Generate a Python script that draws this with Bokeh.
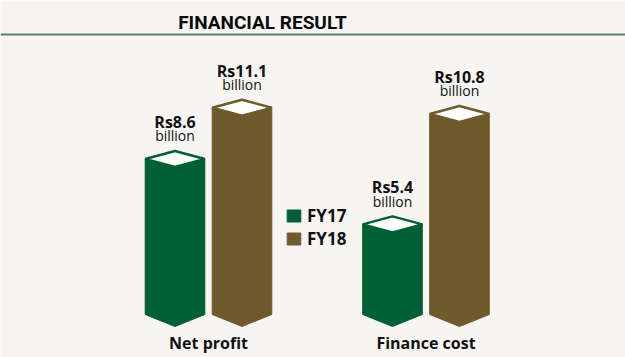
from bokeh.plotting import figure
from bokeh.models import Range1d, Label, Span, Legend, LegendItem, ColumnDataSource
from bokeh.embed import file_html
from bokeh.resources import INLINE
from bokeh.core.properties import value

# ---- data ----
categories = ["Net profit", "Finance cost"]
years = ["FY17", "FY18"]
fy17 = [8.6, 5.4]
fy18 = [11.1, 10.8]
unit = "billion"
title_text = "FINANCIAL RESULT"

# ---- style ----
colors = ["#005f35", "#6e5a2b"]
bg = "#f7f5f2"
W, H = 625, 357
PX = 20.46      # pixels per unit
Y0 = 334.4      # pixel row (from top) of value 0
GX = 217.5      # pixels per group
X0 = 208.0      # pixel column of group 0

def v_of(py):
    return (Y0 - py) / PX

p = figure(width=W, height=H, output_backend="svg", toolbar_location=None,
           x_range=Range1d(-X0 / GX, (W - X0) / GX),
           y_range=Range1d(v_of(H), v_of(0)), min_border=0)
p.axis.visible = False
p.grid.visible = False
p.outline_line_color = None
p.background_fill_color = bg
p.border_fill_color = bg

offset = 33.5 / GX
half = 29.8 / GX
base = v_of(314)
tip = 12 / PX
cap = 8 / PX

renderers = []
for j, (yr, vals) in enumerate(zip(years, [fy17, fy18])):
    xs, ys, dxs, dys, cx = [], [], [], [], []
    for i, v in enumerate(vals):
        c = i + (2 * j - 1) * offset
        cx.append(c)
        xs.append([c - half, c, c + half, c + half, c, c - half])
        ys.append([v, v + cap, v, base, base - tip, base])
        dxs.append([c - half, c, c + half, c])
        dys.append([v, v + cap, v, v - cap])
    r = p.patches(xs, ys, fill_color=colors[j], line_color=colors[j], line_width=1)
    renderers.append(r)
    p.patches(dxs, dys, fill_color="white", line_color=colors[j], line_width=2.5)
    src = ColumnDataSource(dict(x=cx,
                                y1=[v + 37 / PX for v in vals],
                                y2=[v + 23 / PX for v in vals],
                                t1=[f"Rs{v}" for v in vals],
                                t2=[unit] * len(vals)))
    p.text(x="x", y="y1", text="t1", source=src, text_align="center",
           text_baseline="alphabetic", text_font=value("Open Sans"),
           text_font_style="bold", text_font_size="16px", text_color="#111111")
    p.text(x="x", y="y2", text="t2", source=src, text_align="center",
           text_baseline="alphabetic", text_font=value("Open Sans"),
           text_font_size="14px", text_color="#111111")

p.text(x=list(range(len(categories))), y=[v_of(342)] * len(categories), text=categories,
       text_align="center", text_baseline="alphabetic", text_font=value("Open Sans"),
       text_font_style="bold", text_font_size="16px", text_color="#111111")

legend = Legend(items=[LegendItem(label=yr, renderers=[r]) for yr, r in zip(years, renderers)],
                location=(285, H - 250), orientation="vertical",
                background_fill_alpha=0, border_line_color=None,
                padding=0, margin=0, spacing=0, glyph_width=17, glyph_height=15,
                label_height=22, label_standoff=5,
                label_text_font="Open Sans", label_text_font_style="bold",
                label_text_font_size="17px", label_text_color="#111111")
p.add_layout(legend)

p.add_layout(Span(location=v_of(34), dimension="width", line_color="#5b7e67", line_width=2))
p.add_layout(Label(x=262, y=H - 22, x_units="screen", y_units="screen", text=title_text,
                   text_align="center", text_baseline="alphabetic",
                   text_font="Roboto", text_font_style="bold",
                   text_font_size="19px", text_color="#0a0a0a"))

open("out.html", "w").write(file_html(p, INLINE))
